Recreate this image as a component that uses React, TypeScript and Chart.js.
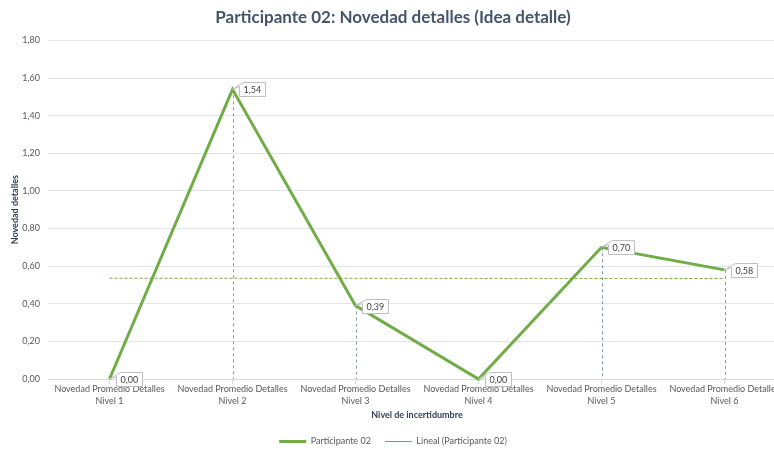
import React, { useEffect, useRef } from "react";
import { Chart, registerables } from "chart.js";

Chart.register(...registerables);

const chartTitle = "Participante 02: Novedad detalles (Idea detalle)";
const xAxisTitle = "Nivel de incertidumbre";
const yAxisTitle = "Novedad detalles";
const seriesName = "Participante 02";
const trendName = "Lineal (Participante 02)";

const categoryLabels: string[][] = [
  ["Novedad Promedio Detalles", "Nivel 1"],
  ["Novedad Promedio Detalles", "Nivel 2"],
  ["Novedad Promedio Detalles", "Nivel 3"],
  ["Novedad Promedio Detalles", "Nivel 4"],
  ["Novedad Promedio Detalles", "Nivel 5"],
  ["Novedad Promedio Detalles", "Nivel 6"],
];

const participante02: number[] = [0.0, 1.54, 0.39, 0.0, 0.7, 0.58];

const yMin = 0;
const yMax = 1.8;
const yStep = 0.2;

const FONT = "Lato, 'Liberation Sans', sans-serif";
const GREEN = "#70AD47";

function linearTrend(values: number[]): number[] {
  const n = values.length;
  const xs = values.map((_, i) => i + 1);
  const mx = xs.reduce((a, b) => a + b, 0) / n;
  const my = values.reduce((a, b) => a + b, 0) / n;
  let num = 0;
  let den = 0;
  for (let i = 0; i < n; i++) {
    num += (xs[i] - mx) * (values[i] - my);
    den += (xs[i] - mx) * (xs[i] - mx);
  }
  const slope = den === 0 ? 0 : num / den;
  const intercept = my - slope * mx;
  return xs.map((x) => intercept + slope * x);
}

const fmt = (v: number) => Number(v).toFixed(2).replace(".", ",");

const dropLinesPlugin = {
  id: "dropLines",
  beforeDatasetsDraw(chart: any) {
    const meta = chart.getDatasetMeta(0);
    const { ctx, chartArea } = chart;
    ctx.save();
    ctx.strokeStyle = "#8497B0";
    ctx.lineWidth = 1;
    ctx.setLineDash([3, 3]);
    meta.data.forEach((pt: any) => {
      const x = Math.round(pt.x) + 0.5;
      ctx.beginPath();
      ctx.moveTo(x, pt.y);
      ctx.lineTo(x, chartArea.bottom);
      ctx.stroke();
    });
    ctx.restore();
  },
};

const dataLabelPlugin = {
  id: "calloutLabels",
  afterDatasetsDraw(chart: any) {
    const meta = chart.getDatasetMeta(0);
    const ds = chart.data.datasets[0];
    const { ctx } = chart;
    ctx.save();
    ctx.font = `9px ${FONT}`;
    meta.data.forEach((pt: any, i: number) => {
      const text = fmt(ds.data[i]);
      const tw = ctx.measureText(text).width;
      const w = Math.round(tw + 8);
      const h = 14;
      const bx = Math.round(pt.x + 6) + 0.5;
      const by = Math.round(pt.y - 7) + 0.5;
      ctx.beginPath();
      ctx.moveTo(bx + 4, by);
      ctx.lineTo(bx + w, by);
      ctx.lineTo(bx + w, by + h);
      ctx.lineTo(bx, by + h);
      ctx.lineTo(bx, by + 4);
      ctx.lineTo(pt.x, pt.y);
      ctx.closePath();
      ctx.fillStyle = "#FFFFFF";
      ctx.fill();
      ctx.strokeStyle = "#BFBFBF";
      ctx.lineWidth = 1;
      ctx.stroke();
      ctx.fillStyle = "#404040";
      ctx.textAlign = "left";
      ctx.textBaseline = "middle";
      ctx.fillText(text, bx + 4, by + h / 2 + 0.5);
    });
    ctx.restore();
  },
};

export default function App() {
  const canvasRef = useRef<HTMLCanvasElement | null>(null);

  useEffect(() => {
    if (!canvasRef.current) return;
    const trend = linearTrend(participante02);
    const chart = new Chart(canvasRef.current, {
      type: "line",
      data: {
        labels: categoryLabels as any,
        datasets: [
          {
            label: seriesName,
            data: participante02,
            borderColor: GREEN,
            backgroundColor: GREEN,
            borderWidth: 3,
            pointRadius: 0,
            tension: 0,
            clip: 6,
            order: 1,
          } as any,
          {
            label: trendName,
            data: trend,
            borderColor: GREEN,
            backgroundColor: GREEN,
            borderWidth: 1,
            borderDash: [3, 2],
            pointRadius: 0,
            tension: 0,
            order: 2,
          } as any,
        ],
      },
      options: {
        responsive: false,
        animation: false,
        devicePixelRatio: 1,
        layout: { padding: { left: 0, right: 0, top: 0, bottom: -5 } },
        plugins: {
          title: {
            display: true,
            text: chartTitle,
            color: "#44546A",
            font: { family: FONT, size: 17, weight: "bold" },
            padding: { top: 7, bottom: 13 },
          },
          legend: {
            position: "bottom",
            labels: {
              usePointStyle: true,
              pointStyle: "line",
              pointStyleWidth: 27,
              color: "#595959",
              font: { family: FONT, size: 9 },
              padding: 14,
            },
          },
          tooltip: { enabled: false },
        },
        scales: {
          x: {
            offset: true,
            grid: {
              drawOnChartArea: false,
              drawTicks: true,
              tickLength: 5,
              color: "#D9D9D9",
            },
            border: { color: "#D9D9D9" },
            ticks: {
              color: "#595959",
              font: { family: FONT, size: 9, lineHeight: 1.33 },
              padding: -1,
              maxRotation: 0,
              autoSkip: false,
            },
            title: {
              display: true,
              text: xAxisTitle,
              color: "#333F50",
              font: { family: FONT, size: 9, weight: "bold" },
              padding: { top: 2, bottom: 3 },
            },
            afterFit: (s: any) => {
              s.height = 44;
            },
          },
          y: {
            min: yMin,
            max: yMax,
            ticks: {
              stepSize: yStep,
              callback: (v: any) => fmt(v),
              color: "#595959",
              font: { family: FONT, size: 9 },
              padding: 8,
            },
            grid: { color: "#E4E4EC", drawTicks: false },
            border: { display: false },
            title: {
              display: true,
              text: yAxisTitle,
              color: "#333F50",
              font: { family: FONT, size: 9, weight: "bold" },
              padding: { top: 10, bottom: 0 },
            },
            afterFit: (s: any) => {
              s.width = 48;
            },
          },
        },
      } as any,
      plugins: [dropLinesPlugin, dataLabelPlugin],
    });
    return () => chart.destroy();
  }, []);

  return (
    <div style={{ position: "fixed", left: 0, top: 0, width: 774, height: 451, overflow: "hidden", background: "#FFFFFF" }}>
      <canvas ref={canvasRef} width={786} height={451} style={{ display: "block" }} />
    </div>
  );
}
